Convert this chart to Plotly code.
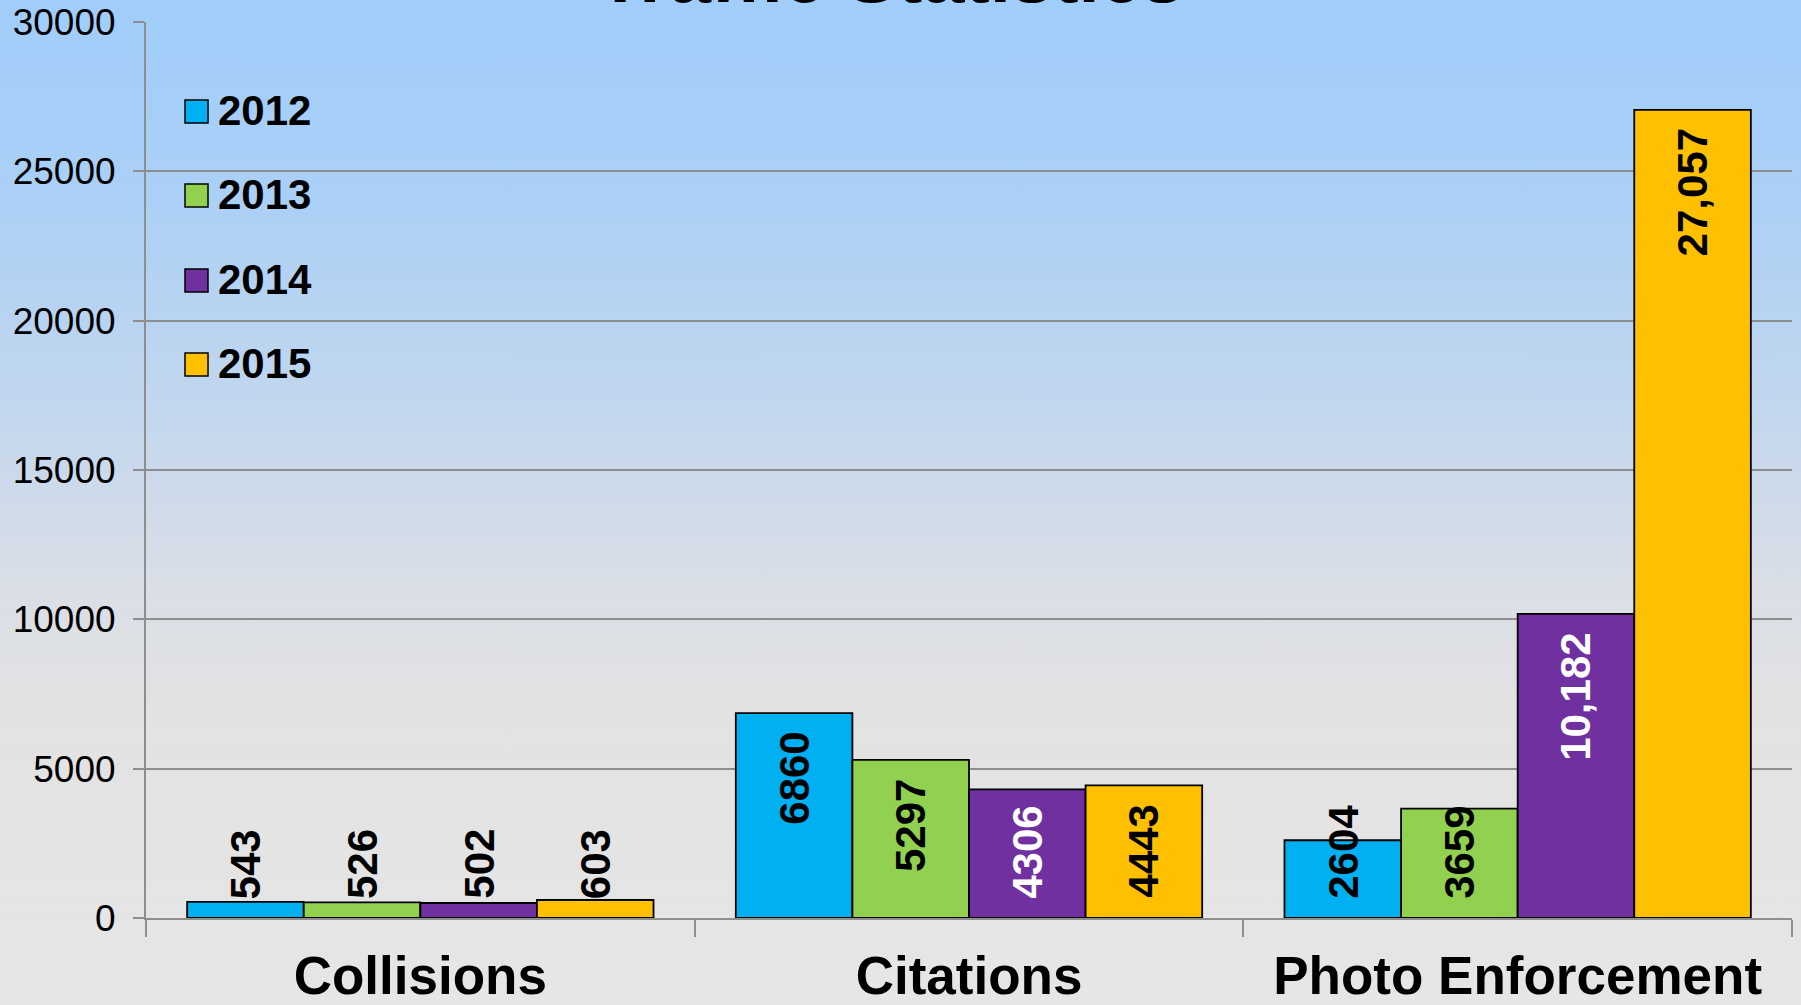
import base64
import plotly.graph_objects as go

# ---------------- data ----------------
categories = ["Collisions", "Citations", "Photo Enforcement"]
years = ["2012", "2013", "2014", "2015"]
values_2012 = [543, 6860, 2604]
values_2013 = [526, 5297, 3659]
values_2014 = [502, 4306, 10182]
values_2015 = [603, 4443, 27057]
labels_2012 = ["543", "6860", "2604"]
labels_2013 = ["526", "5297", "3659"]
labels_2014 = ["502", "4306", "10,182"]
labels_2015 = ["603", "4443", "27,057"]
y_ticks = [0, 5000, 10000, 15000, 20000, 25000, 30000]
title_text = "Traffic Statistics"

series_values = [values_2012, values_2013, values_2014, values_2015]
series_labels = [labels_2012, labels_2013, labels_2014, labels_2015]

# ---------------- style ----------------
W, H = 1801, 1005
ML, MR, MT, MB = 146, 9, 22, 87
PW, PH = W - ML - MR, H - MT - MB
colors = ["#00b0f0", "#92d050", "#7030a0", "#ffc000"]
inside_label_colors = ["black", "black", "white", "black"]
FONT = "Liberation Sans, Arial, sans-serif"
GRID = "#8e8e8e"
LABEL_SIZE = 42
BARGAP = 0.15

# background gradient (blue at top fading to light grey)
svg = (
    '<svg xmlns="http://www.w3.org/2000/svg" width="10" height="100" '
    'viewBox="0 0 10 100" preserveAspectRatio="none">'
    '<defs><linearGradient id="g" x1="0" y1="0" x2="0" y2="1">'
    '<stop offset="0" stop-color="#a0cdfa"/>'
    '<stop offset="0.2" stop-color="#abd0f6"/>'
    '<stop offset="0.42" stop-color="#c4d7ed"/>'
    '<stop offset="0.58" stop-color="#d9dee6"/>'
    '<stop offset="0.7" stop-color="#e2e2e3"/>'
    '<stop offset="1" stop-color="#e6e6e6"/>'
    '</linearGradient></defs>'
    '<rect x="0" y="0" width="10" height="100" fill="url(#g)"/></svg>'
)
svg_uri = "data:image/svg+xml;base64," + base64.b64encode(svg.encode()).decode()

fig = go.Figure()
for name, vals, col in zip(years, series_values, colors):
    fig.add_trace(go.Bar(
        x=categories, y=vals, name=name,
        marker=dict(color=col, line=dict(color="black", width=1.8)),
        showlegend=False, hoverinfo="x+y+name",
    ))

# data labels (rotated), Excel "inside end" with floor near the axis
ymax = y_ticks[-1]
px_per_unit = PH / ymax
cat_w = PW / len(categories)
bar_w = cat_w * (1 - BARGAP) / len(years)
annotations = []
for i, (vals, labs) in enumerate(zip(series_values, series_labels)):
    xoff = (i - (len(years) - 1) / 2) * bar_w
    for cat, v, lab in zip(categories, vals, labs):
        L = sum(0.278 if ch == "," else 0.556 for ch in lab) * LABEL_SIZE
        h = v * px_per_unit
        if h - 18 - L >= 18:
            ya, yv, ys = "top", v, -17
        else:
            ya, yv, ys = "bottom", 0, 17
        col = inside_label_colors[i] if h > 40 else "black"
        annotations.append(dict(
            x=cat, y=yv, xref="x", yref="y", text=lab, showarrow=False,
            textangle=-90, xanchor="center", yanchor=ya, xshift=xoff, yshift=ys,
            font=dict(family=FONT, size=LABEL_SIZE, color=col, weight="bold"),
        ))

# custom legend
shapes = []
row_centers = [89.5, 173.5, 258.5, 342.5]  # px below plot top
for name, col, rc in zip(years, colors, row_centers):
    shapes.append(dict(
        type="rect", xref="paper", yref="paper",
        xsizemode="pixel", ysizemode="pixel", xanchor=0, yanchor=1,
        x0=39, x1=62, y0=-rc - 11.5, y1=-rc + 11.5,
        fillcolor=col, line=dict(color="black", width=1.5), layer="above",
    ))
    annotations.append(dict(
        x=0, y=1, xref="paper", yref="paper", text=name, showarrow=False,
        xanchor="left", yanchor="middle", xshift=70, yshift=-rc + 1,
        font=dict(family=FONT, size=42, color="black", weight="bold"),
    ))

# title (mostly clipped off at top, as in the reference)
annotations.append(dict(
    x=(890 - ML) / PW, y=1, xref="paper", yref="paper", text=title_text,
    showarrow=False, xanchor="center", yanchor="bottom", yshift=2,
    font=dict(family=FONT, size=76, color="black", weight="bold"),
))

fig.update_layout(
    width=W, height=H,
    margin=dict(l=ML, r=MR, t=MT, b=MB, pad=0, autoexpand=False),
    paper_bgcolor="#e6e6e6", plot_bgcolor="rgba(0,0,0,0)",
    barmode="group", bargap=BARGAP, bargroupgap=0,
    showlegend=False,
    annotations=annotations, shapes=shapes,
    images=[dict(
        source=svg_uri, xref="paper", yref="paper",
        x=-ML / PW, y=1 + MT / PH, sizex=W / PW, sizey=H / PH,
        xanchor="left", yanchor="top", sizing="stretch", layer="below",
    )],
    font=dict(family=FONT, color="black"),
)
fig.update_xaxes(
    type="category", showline=True, linecolor=GRID, linewidth=2,
    ticks="outside", tickson="boundaries", ticklen=17, tickcolor=GRID, tickwidth=2,
    showgrid=False, automargin=False,
    tickfont=dict(family=FONT, size=53, color="black", weight="bold"),
    ticklabelstandoff=10,
)
fig.update_yaxes(
    range=[0, ymax], tickvals=y_ticks, tickformat="d",
    showline=True, linecolor=GRID, linewidth=2,
    showgrid=True, gridcolor=GRID, gridwidth=2, zeroline=False,
    ticks="outside", ticklen=11, tickcolor=GRID, tickwidth=2, automargin=False,
    tickfont=dict(family=FONT, size=37, color="black"),
    ticklabelstandoff=10,
)

fig.write_html(
    "out.html",
    config={"displayModeBar": False},
    post_script="document.body.style.margin='0';document.body.style.overflow='hidden';",
)
